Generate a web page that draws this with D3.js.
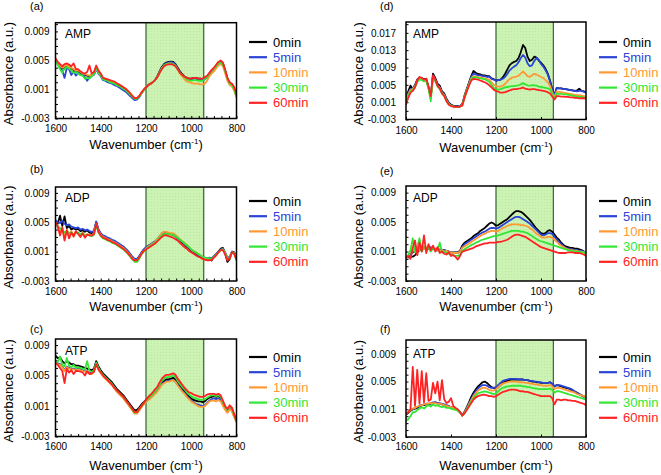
<!DOCTYPE html>
<html><head><meta charset="utf-8">
<script src="https://cdn.jsdelivr.net/npm/d3@7"></script>
<style>body{margin:0;background:#fff}svg{display:block}text{font-family:"Liberation Sans",Arial,sans-serif}</style>
</head><body><svg id="c" width="661" height="475"></svg>
<script>
// ---- DATA (absorbance values in units of 10^-3 a.u.) ----
const wavenumber = [1600,1590,1580,1570,1560,1550,1540,1530,1520,1510,1500,1490,1480,1470,1460,1450,1440,1430,1420,1410,1400,1390,1380,1370,1360,1350,1340,1330,1320,1310,1300,1290,1280,1270,1260,1250,1240,1230,1220,1210,1200,1190,1180,1170,1160,1150,1140,1130,1120,1110,1100,1090,1080,1070,1060,1050,1040,1030,1020,1010,1000,990,980,970,960,950,940,930,920,910,900,890,880,870,860,850,840,830,820,810,800];
const seriesNames = ["0min","5min","10min","30min","60min"];
const panelIds = ["(a)","(b)","(c)","(d)","(e)","(f)"];
const compounds = ["AMP","ADP","ATP","AMP","ADP","ATP"];
const xTickValues = [1600,1400,1200,1000,800];
const highlightBand = [1200,945];
const yTicks = [-3,1,5,9];
const yTickLabels = ["-0.003","0.001","0.005","0.009"];
const yTicksD = [-3,1,5,9,13,17];
const yTickLabelsD = ["-0.003","0.001","0.005","0.009","0.013","0.017"];

// (a) AMP
const a_0min = [5.0,4.6,4.3,3.9,4.1,4.3,4.4,3.9,3.7,3.5, 3.6,3.3,3.1,3.0,2.9,2.8,3.0,3.2,4.0,3.4, 3.0,2.4,2.3,2.2,2.0,1.9,1.8,1.6,1.5,1.3, 1.1,0.9,0.6,0.3,0.0,-0.3,-0.3,0.0,0.5,0.9, 1.3,1.6,1.8,2.0,2.3,2.8,3.5,4.1,4.5,4.7, 4.8,4.85,4.8,4.5,4.0,3.5,3.1,2.8,2.6,2.5, 2.5,2.6,2.6,2.5,2.5,2.4,2.5,2.7,3.2,3.6, 3.9,4.3,4.7,4.9,4.6,3.6,2.5,1.9,1.7,1.2, 0.2];
const a_5min = [5.1,4.5,4.0,3.6,2.6,4.0,3.8,3.0,3.5,2.9, 3.3,3.0,3.0,2.7,2.2,2.7,2.9,3.0,3.8,3.2, 2.8,2.3,2.2,2.0,1.9,1.8,1.6,1.5,1.3,1.1, 0.9,0.7,0.4,0.1,-0.2,-0.45,-0.4,-0.1,0.5,0.9, 1.3,1.6,1.8,2.0,2.3,2.8,3.4,4.0,4.4,4.6, 4.7,4.75,4.7,4.4,3.9,3.4,3.0,2.7,2.5,2.4, 2.4,2.5,2.5,2.4,2.4,2.3,2.4,2.6,3.1,3.5, 3.8,4.2,4.6,4.8,4.5,3.5,2.4,1.8,1.6,1.1, 0.1];
const a_10min = [5.2,4.7,4.3,4.0,4.2,4.4,4.2,4.0,3.8,3.6, 3.6,3.4,3.2,3.1,3.0,2.9,3.1,3.3,4.1,3.5, 3.1,2.6,2.5,2.4,2.2,2.1,2.0,1.8,1.7,1.5, 1.3,1.1,0.8,0.4,0.1,-0.2,-0.2,0.1,0.5,0.9, 1.3,1.6,1.8,2.0,2.3,2.7,3.3,3.9,4.3,4.5, 4.6,4.6,4.5,4.2,3.7,3.2,2.8,2.4,2.1,2.0, 1.9,1.8,1.8,1.8,1.7,1.7,1.8,2.2,2.8,3.2, 3.5,3.9,4.3,4.5,4.2,3.2,2.2,1.6,1.4,0.8, -0.1];
const a_30min = [5.0,4.4,3.8,3.3,3.9,4.1,3.9,3.6,3.3,3.4, 3.2,3.0,2.9,2.5,2.6,2.5,2.8,3.1,3.9,3.3, 2.9,2.4,2.3,2.2,2.0,1.9,1.8,1.6,1.5,1.3, 1.1,0.9,0.6,0.3,0.0,-0.3,-0.3,0.0,0.5,0.9, 1.3,1.6,1.8,2.0,2.3,2.7,3.3,3.9,4.3,4.5, 4.55,4.6,4.5,4.3,3.8,3.3,3.0,2.7,2.4,2.3, 2.2,2.3,2.3,2.2,2.2,2.2,2.4,2.7,3.2,3.6, 3.9,4.2,4.6,4.7,4.4,3.5,2.5,1.8,1.6,1.0, 0.0];
const a_60min = [5.3,4.8,4.5,4.2,4.5,4.6,4.4,4.2,4.6,3.8, 3.8,3.5,3.3,3.2,3.4,4.3,3.2,3.4,4.3,3.6, 3.2,2.6,2.5,2.4,2.3,2.2,2.1,1.9,1.7,1.5, 1.3,1.1,0.8,0.5,0.1,-0.2,-0.2,0.1,0.6,1.0, 1.3,1.6,1.8,2.0,2.3,2.7,3.3,3.8,4.2,4.4, 4.45,4.5,4.4,4.2,3.8,3.3,3.0,2.8,2.6,2.5, 2.5,2.6,2.6,2.5,2.5,2.5,2.7,2.9,3.3,3.7, 4.0,4.4,4.8,5.0,4.7,3.7,2.6,2.0,1.8,1.3, 0.3];

// (b) ADP
const b_0min = [5.2,4.8,5.9,4.5,5.8,4.2,4.5,4.0,4.2,4.0, 4.1,3.8,3.9,3.7,3.9,3.6,3.5,3.7,5.0,3.9, 3.4,3.1,3.0,2.8,2.7,2.5,2.4,2.2,2.0,1.8, 1.6,1.3,1.0,0.6,0.2,-0.1,-0.1,0.3,0.8,1.2, 1.5,1.8,1.9,2.1,2.3,2.6,3.0,3.4,3.7,3.6, 3.5,3.4,3.3,3.1,2.8,2.5,2.2,2.0,1.7,1.4, 1.1,0.9,0.7,0.5,0.3,0.1,0.0,-0.1,0.0,-0.2, 0.3,0.6,1.0,1.4,1.5,0.8,-0.4,0.0,1.0,0.9, -0.1];
const b_5min = [5.3,5.0,4.9,5.2,4.8,4.6,4.7,4.4,4.3,4.2, 4.3,4.0,4.1,3.9,4.0,3.8,3.7,3.8,5.1,4.0, 3.5,3.2,3.1,2.9,2.8,2.6,2.5,2.3,2.1,1.9, 1.7,1.4,1.1,0.7,0.3,0.0,0.0,0.4,0.9,1.3, 1.6,1.8,2.0,2.2,2.4,2.7,3.1,3.4,3.6,3.6, 3.5,3.4,3.3,3.1,2.8,2.6,2.3,2.1,1.8,1.5, 1.2,1.0,0.8,0.6,0.4,0.3,0.2,0.1,0.2,0.1, 0.4,0.7,1.0,1.3,1.4,0.9,0.2,0.3,1.0,0.8, 0.1];
const b_10min = [5.0,4.3,3.5,4.2,2.8,4.0,3.4,3.8,3.0,3.7, 3.5,3.3,3.6,3.0,3.4,3.3,3.2,3.5,4.8,3.8, 3.3,3.0,2.9,2.7,2.6,2.4,2.3,2.1,1.9,1.7, 1.5,1.2,0.9,0.5,0.1,-0.2,-0.2,0.2,0.7,1.1, 1.4,1.7,1.9,2.1,2.3,2.7,3.1,3.5,3.7,3.7, 3.6,3.5,3.5,3.3,3.0,2.7,2.4,2.2,1.9,1.6, 1.3,1.1,0.9,0.7,0.5,0.3,0.1,0.0,0.0,-0.1, 0.2,0.5,0.9,1.2,1.3,0.8,0.0,0.1,0.9,0.7, -0.2];
const b_30min = [4.9,4.4,4.2,3.9,3.6,3.8,3.5,3.6,3.4,3.5, 3.6,3.4,3.5,3.2,3.3,3.2,3.1,3.3,4.6,3.6, 3.1,2.8,2.7,2.5,2.4,2.2,2.1,1.9,1.7,1.5, 1.3,1.0,0.7,0.3,-0.1,-0.4,-0.4,0.0,0.6,1.0, 1.3,1.6,1.8,2.0,2.2,2.5,2.9,3.2,3.4,3.4, 3.4,3.3,3.3,3.1,2.9,2.6,2.4,2.1,1.9,1.6, 1.3,1.1,0.9,0.7,0.5,0.3,0.2,0.1,0.1,0.0, 0.3,0.6,0.9,1.2,1.3,0.8,0.0,0.2,0.9,0.8, 0.0];
const b_60min = [5.0,4.5,3.2,4.3,2.5,3.9,2.8,3.6,3.1,3.8, 3.4,3.0,3.5,2.9,3.3,3.2,3.2,3.4,4.8,3.7, 3.2,2.9,2.8,2.6,2.5,2.3,2.2,2.0,1.8,1.6, 1.4,1.1,0.8,0.4,0.0,-0.2,-0.2,0.2,0.7,1.1, 1.3,1.5,1.7,1.9,2.1,2.4,2.7,3.0,3.2,3.2, 3.1,3.0,2.9,2.7,2.5,2.2,1.9,1.6,1.4,1.1, 0.9,0.7,0.5,0.3,0.2,0.0,-0.1,-0.2,-0.2,-0.1, 0.2,0.5,0.9,1.2,1.2,0.6,-0.2,0.1,0.9,0.7, -0.1];

// (c) ATP
const c_0min = [7.6,7.3,7.4,6.9,6.6,6.9,6.7,6.5,6.5,6.3, 6.3,6.2,6.1,6.0,5.9,5.8,5.7,5.9,6.9,6.2, 5.7,5.3,5.0,4.7,4.4,4.1,3.7,3.3,3.0,2.7, 2.4,2.0,1.6,1.2,0.8,0.4,0.5,0.8,1.2,1.5, 1.8,2.1,2.3,2.6,2.9,3.2,3.7,4.1,4.3,4.5, 4.5,4.6,4.7,4.5,4.1,3.7,3.3,3.0,2.6,2.3, 2.0,1.8,1.7,1.6,1.6,1.5,1.6,1.9,2.1,2.2, 2.3,2.2,2.3,2.1,1.4,0.8,0.4,0.9,0.6,-0.2, -1.0];
const c_5min = [6.8,6.6,6.5,6.2,5.7,6.2,6.0,5.9,5.9,5.8, 5.9,5.8,5.7,5.6,5.5,5.4,5.3,5.6,6.6,5.9, 5.4,5.0,4.7,4.4,4.1,3.8,3.4,3.0,2.7,2.4, 2.1,1.7,1.3,0.9,0.5,0.1,0.1,0.5,0.9,1.3, 1.6,1.9,2.1,2.4,2.7,3.0,3.5,3.9,4.1,4.3, 4.3,4.4,4.4,4.2,3.8,3.4,3.0,2.7,2.3,2.0, 1.7,1.5,1.3,1.2,1.1,1.0,1.1,1.4,1.7,1.9, 2.0,1.9,2.0,1.8,1.2,0.6,0.2,0.7,0.4,-0.4, -1.1];
const c_10min = [6.6,6.5,6.4,6.1,5.6,6.1,5.9,5.8,5.8,5.7, 5.8,5.7,5.6,5.5,5.4,5.3,5.2,5.5,6.5,5.8, 5.3,4.9,4.6,4.3,4.0,3.7,3.3,2.9,2.6,2.3, 2.0,1.6,1.2,0.8,0.4,0.0,0.0,0.4,0.8,1.2, 1.5,1.8,2.0,2.3,2.6,2.9,3.3,3.8,4.0,4.2, 4.2,4.3,4.4,4.2,3.7,3.3,2.9,2.6,2.2,1.9, 1.6,1.4,1.2,1.0,0.9,0.9,1.0,1.3,1.6,1.7, 1.7,1.6,1.8,1.6,1.0,0.5,0.1,0.6,0.3,-0.5, -1.1];
const c_30min = [6.7,6.8,7.5,6.4,6.2,7.3,6.3,6.1,6.4,6.0, 6.1,6.0,5.9,5.8,6.9,5.6,5.5,5.7,6.7,6.0, 5.5,5.1,4.8,4.5,4.2,3.9,3.5,3.1,2.8,2.5, 2.2,1.8,1.4,1.0,0.5,0.1,0.2,0.6,1.0,1.4, 1.7,2.0,2.3,2.6,2.9,3.3,3.8,4.3,4.6,4.8, 4.8,4.9,5.0,4.8,4.3,3.9,3.5,3.2,2.8,2.5, 2.3,2.1,2.0,1.9,1.8,1.8,1.9,2.1,2.3,2.4, 2.4,2.3,2.4,2.2,1.5,0.9,0.5,1.0,0.7,-0.2, -1.0];
const c_60min = [6.7,6.4,6.0,5.6,4.0,5.9,5.4,5.7,5.2,5.6, 5.6,5.5,5.4,5.0,5.6,5.2,5.3,5.5,6.5,5.8, 5.4,5.0,4.7,4.4,4.1,3.8,3.4,3.1,2.8,2.5, 2.2,1.8,1.4,1.0,0.6,0.2,0.2,0.6,1.0,1.4, 1.8,2.2,2.5,2.8,3.2,3.5,4.1,4.6,4.9,5.1, 5.1,5.2,5.3,5.1,4.6,4.2,3.8,3.4,3.1,2.8, 2.7,2.5,2.4,2.3,2.2,2.2,2.3,2.5,2.6,2.6, 2.6,2.5,2.6,2.4,1.7,1.0,0.6,1.1,0.8,-0.1, -0.9];

// (d) AMP
const d_0min = [2.1,3.5,4.8,4.0,5.0,6.2,6.7,6.5,6.3,6.4, 4.5,2.2,7.6,6.6,5.3,4.8,3.5,3.0,1.8,0.9, 0.4,0.2,0.1,0.1,0.1,0.5,2.5,4.0,5.5,7.0, 8.2,7.8,7.5,7.4,7.2,7.2,7.0,7.0,6.5,6.3, 6.0,6.1,6.2,6.7,7.5,8.5,9.5,10.0,10.3,10.5, 11.2,12.5,14.2,13.5,11.5,10.5,10.8,11.5,11.3,10.6, 10.1,9.5,8.7,7.6,6.0,4.0,2.6,4.3,4.2,4.2, 4.0,4.0,3.9,3.8,3.7,3.6,3.7,4.1,3.6,3.5, 3.2];
const d_5min = [2.5,3.0,4.0,4.2,4.8,6.0,6.6,6.4,6.1,6.2, 4.4,2.3,7.2,6.3,5.0,4.5,3.3,2.8,1.6,0.8, 0.3,0.1,0.0,0.0,0.0,0.4,2.3,3.8,5.3,6.8, 7.6,7.4,7.2,7.2,7.0,7.0,6.8,6.9,6.4,6.2, 6.0,6.1,6.2,6.4,6.8,7.5,8.3,8.8,9.2,9.5, 10.2,11.2,11.9,11.3,10.0,9.3,9.5,10.5,11.2,10.8, 9.8,9.2,8.4,7.4,5.8,3.8,2.6,4.3,4.2,4.2, 4.0,4.0,3.9,3.8,3.7,3.6,3.5,3.6,3.6,3.4, 3.2];
const d_10min = [1.5,2.8,3.8,4.0,4.6,5.8,6.5,6.3,6.0,6.1, 4.3,2.0,7.0,6.1,4.8,4.3,3.1,2.6,1.4,0.6, 0.2,0.0,-0.1,-0.1,0.0,0.3,2.2,3.7,5.1,6.5, 7.0,6.9,6.8,6.7,6.6,6.5,6.3,6.2,5.6,5.0, 4.7,4.6,4.6,4.8,5.2,5.8,6.3,6.6,6.8,6.9, 7.1,7.6,8.1,7.6,7.0,6.8,7.2,7.5,7.4,7.1, 6.8,6.6,6.1,5.6,4.8,3.2,2.2,3.5,3.4,3.3, 3.2,3.1,3.0,2.9,2.8,2.7,2.6,2.6,2.5,2.4, 2.2];
const d_30min = [1.0,2.5,3.5,3.8,4.5,5.7,6.3,6.1,5.8,5.9, 4.1,1.2,6.8,5.9,4.6,4.1,3.0,2.5,1.3,0.5, 0.2,0.0,-0.1,-0.1,0.0,0.3,2.1,3.6,5.0,6.3, 6.8,6.7,6.6,6.5,6.4,6.3,6.0,5.7,5.0,4.3, 4.0,3.9,4.0,4.2,4.4,4.5,4.6,4.7,4.7,4.8, 4.9,5.1,5.4,5.1,4.9,4.8,4.9,4.9,4.8,4.6, 4.5,4.4,4.3,4.2,3.9,2.8,1.8,3.0,2.9,2.9, 2.8,2.8,2.7,2.6,2.5,2.4,2.3,2.2,2.2,2.1, 2.0];
const d_60min = [0.4,2.0,3.2,3.6,4.4,6.0,6.8,6.6,6.2,6.4, 4.6,2.4,7.2,6.2,4.8,4.2,3.0,2.4,1.2,0.4, 0.1,0.0,-0.1,-0.1,0.0,0.2,2.0,3.5,4.8,6.0, 6.4,6.3,6.2,6.0,5.8,5.6,5.3,4.9,4.4,3.9, 3.6,3.4,3.2,3.2,3.3,3.5,3.7,3.9,4.0,4.0, 4.1,4.2,4.4,4.1,4.0,3.9,4.0,4.0,3.9,3.8, 3.7,3.6,3.5,3.3,3.0,2.3,1.6,2.4,2.4,2.3, 2.3,2.2,2.2,2.1,2.1,2.0,2.0,1.9,1.9,1.9, 1.8];

// (e) ADP
const e_0min = [0.2,0.2,0.3,0.3,0.5,0.9,1.2,1.3,1.4,1.5, 1.4,1.5,1.4,1.3,1.3,1.2,1.2,1.2,1.1,1.0, 0.9,0.9,0.9,0.9,1.1,1.8,2.2,2.4,2.6,2.8, 3.1,3.3,3.5,3.8,4.0,4.2,4.5,4.8,4.95,4.8, 4.5,4.6,4.8,5.0,5.2,5.4,5.7,6.0,6.3,6.5, 6.5,6.4,6.2,5.9,5.6,5.3,4.9,4.5,4.1,3.8, 3.5,3.4,3.5,3.8,3.9,3.7,3.3,2.9,2.6,2.2, 1.9,1.7,1.6,1.5,1.5,1.4,1.4,1.3,1.2,1.0, 0.8];
const e_5min = [0.2,0.3,0.6,0.9,1.0,1.1,1.3,1.2,1.5,1.3, 1.4,1.6,1.3,1.4,1.2,1.3,1.1,1.2,1.0,1.0, 0.9,0.8,0.9,0.8,1.0,1.6,2.0,2.2,2.4,2.6, 2.8,3.0,3.2,3.4,3.6,3.7,3.9,4.1,4.2,4.2, 4.1,4.2,4.4,4.6,4.8,5.0,5.2,5.4,5.6,5.7, 5.7,5.6,5.4,5.2,5.0,4.8,4.5,4.2,3.9,3.6, 3.3,3.2,3.3,3.5,3.5,3.4,3.0,2.6,2.3,2.0, 1.7,1.5,1.4,1.3,1.3,1.2,1.2,1.1,1.1,1.0, 0.8];
const e_10min = [0.2,0.4,1.0,1.3,1.1,1.5,1.2,1.8,1.3,1.6, 1.5,1.2,1.6,1.3,1.4,1.1,1.2,1.0,1.1,0.9, 0.9,0.8,0.8,0.8,1.0,1.5,1.7,1.9,2.1,2.3, 2.5,2.7,2.9,3.1,3.3,3.4,3.6,3.7,3.8,3.8, 3.7,3.8,4.0,4.2,4.3,4.5,4.6,4.7,4.7,4.7, 4.7,4.6,4.6,4.5,4.4,4.2,4.0,3.7,3.4,3.2, 3.0,2.9,2.9,3.0,3.0,2.9,2.6,2.3,2.0,1.8, 1.6,1.4,1.3,1.2,1.2,1.1,1.1,1.0,1.0,0.9, 0.7];
const e_30min = [0.2,0.5,1.2,2.8,0.9,1.6,2.8,1.0,1.7,1.3, 1.5,1.0,1.4,1.2,1.1,2.2,0.9,1.0,0.8,0.7, 0.6,0.5,0.4,0.4,0.6,1.1,1.3,1.5,1.7,1.9, 2.0,2.2,2.3,2.5,2.6,2.7,2.8,2.9,3.0,3.1, 3.1,3.2,3.3,3.4,3.5,3.6,3.7,3.8,3.8,3.8, 3.8,3.7,3.7,3.6,3.5,3.3,3.1,2.9,2.7,2.5, 2.4,2.3,2.2,2.1,2.0,1.9,1.8,1.7,1.6,1.5, 1.4,1.3,1.2,1.1,1.1,1.0,1.0,1.0,0.9,0.9, 0.7];
const e_60min = [0.2,0.4,0.0,1.5,2.5,0.5,2.2,1.0,3.2,0.8, 2.0,1.2,1.8,1.0,1.6,0.8,1.0,0.7,0.6,0.9, 0.4,0.5,0.3,-0.1,0.4,1.0,1.1,1.2,1.3,1.4, 1.5,1.7,1.8,1.9,2.0,2.1,2.1,2.2,2.2,2.2, 2.2,2.3,2.3,2.4,2.5,2.6,2.8,3.0,3.2,3.3, 3.3,3.2,3.1,3.0,2.8,2.6,2.4,2.2,2.0,1.8, 1.6,1.5,1.4,1.3,1.2,1.1,1.0,0.9,0.8,0.8, 0.8,0.8,0.9,0.9,0.9,0.8,0.8,0.8,0.7,0.6, 0.4];

// (f) ATP
const f_0min = [0.2,0.5,0.8,1.0,1.1,1.2,1.4,1.6,1.6,1.7, 1.7,1.8,1.9,2.0,1.9,1.8,1.7,1.6,1.5,1.4, 1.3,1.2,1.1,0.9,0.6,0.1,0.6,1.3,2.0,2.8, 3.4,3.9,4.3,4.6,4.9,5.0,4.8,4.5,4.2,4.1, 4.0,4.2,4.5,4.8,5.0,5.1,5.2,5.3,5.3,5.3, 5.3,5.3,5.3,5.2,5.2,5.1,5.0,5.0,4.9,4.9, 4.8,4.8,4.8,4.8,4.9,4.7,4.3,4.5,4.4,4.3, 4.2,4.1,4.0,3.9,3.7,3.5,3.4,3.2,3.0,2.9, 2.7];
const f_5min = [0.3,0.6,0.9,1.0,1.2,1.3,1.5,1.6,1.7,1.8, 1.8,1.9,2.0,2.0,1.9,1.9,1.8,1.7,1.6,1.5, 1.3,1.2,1.1,0.9,0.6,0.1,0.6,1.2,1.8,2.5, 3.1,3.6,4.0,4.3,4.5,4.5,4.4,4.2,4.1,4.1, 4.2,4.5,4.8,5.1,5.2,5.3,5.4,5.4,5.4,5.4, 5.3,5.3,5.3,5.2,5.2,5.1,5.1,5.0,5.0,4.9, 4.9,4.8,4.8,4.8,4.9,4.7,4.3,4.5,4.5,4.4, 4.3,4.2,4.1,4.0,3.8,3.6,3.4,3.2,3.0,2.8, 2.6];
const f_10min = [0.3,0.6,0.9,1.1,1.2,1.4,1.5,1.6,1.7,1.8, 1.8,1.9,1.9,1.9,1.8,1.8,1.7,1.6,1.5,1.4, 1.3,1.2,1.1,0.9,0.6,0.1,0.5,1.1,1.7,2.3, 2.9,3.3,3.7,3.9,4.1,4.1,4.0,3.8,3.7,3.7, 3.9,4.2,4.5,4.7,4.8,4.9,5.0,5.0,5.0,5.0, 4.9,4.9,4.9,4.8,4.8,4.7,4.7,4.6,4.6,4.5, 4.5,4.4,4.4,4.4,4.5,4.3,3.9,4.1,4.1,4.0, 3.9,3.8,3.7,3.6,3.5,3.4,3.2,3.1,3.0,2.9, 2.7];
const f_30min = [-0.7,-0.4,0.0,0.6,0.6,0.9,1.1,1.3,1.1,1.4, 1.6,1.4,1.7,1.5,1.6,1.4,1.3,1.4,1.2,1.2, 1.1,1.0,0.9,0.8,0.5,0.1,0.4,1.0,1.6,2.1, 2.6,3.0,3.3,3.4,3.5,3.6,3.5,3.4,3.3,3.2, 3.3,3.6,3.9,4.1,4.2,4.3,4.3,4.4,4.4,4.4, 4.4,4.4,4.3,4.3,4.2,4.2,4.1,4.0,4.0,3.9, 3.9,3.9,3.9,3.9,4.0,3.8,3.4,3.6,3.6,3.5, 3.4,3.3,3.2,3.1,3.0,2.9,2.8,2.7,2.6,2.5, 2.4];
const f_60min = [0.3,0.6,1.0,7.1,1.5,6.7,1.8,6.5,2.0,6.2, 2.2,2.4,4.8,3.3,5.0,2.3,5.2,2.4,1.9,2.1, 2.6,1.5,1.2,1.0,0.6,0.1,0.4,0.9,1.4,1.9, 2.4,2.7,2.9,3.0,3.1,3.1,3.0,2.9,2.9,2.8, 2.9,3.1,3.3,3.5,3.6,3.7,3.8,3.85,3.85,3.8, 3.7,3.6,3.6,3.5,3.5,3.4,3.3,3.2,3.1,3.0, 2.9,2.9,2.9,2.9,2.9,2.6,1.7,2.4,2.4,2.3, 2.4,2.4,2.3,2.3,2.2,2.2,2.1,2.0,1.9,1.8, 1.6];

const panelSeries = [
  [a_0min,a_5min,a_10min,a_30min,a_60min],
  [b_0min,b_5min,b_10min,b_30min,b_60min],
  [c_0min,c_5min,c_10min,c_30min,c_60min],
  [d_0min,d_5min,d_10min,d_30min,d_60min],
  [e_0min,e_5min,e_10min,e_30min,e_60min],
  [f_0min,f_5min,f_10min,f_30min,f_60min]
];

// ---- LAYOUT & STYLE ----
const colors = ["#000000","#2944d6","#ff9933","#33e633","#ff2222"];
const left = {x0:55.5,x1:236.5,idX:30,nameDx:9.5,legX:249,tickPad:6,yTitleX:13,minorX:true};
const right = {x0:406,x1:586,idX:380,nameDx:7,legX:599,tickPad:10,yTitleX:363,minorX:false};
const layout = [
  {col:left, y0:22.7,y1:118.5,ymax:10.2,idY:10, nameY:37.7,legY:42, tickB:132,titleB:149,yt:yTicks, ytl:yTickLabels, minorStep:1},
  {col:left, y0:187, y1:281, ymax:9.8, idY:173,nameY:201.7,legY:201,tickB:295,titleB:311,yt:yTicks, ytl:yTickLabels, minorStep:1},
  {col:left, y0:339, y1:436.5,ymax:9.8, idY:333,nameY:355, legY:357,tickB:450,titleB:470,yt:yTicks, ytl:yTickLabels, minorStep:1},
  {col:right,y0:22, y1:119.5,ymax:19.5,idY:10, nameY:38.3,legY:42, tickB:134,titleB:152,yt:yTicksD,ytl:yTickLabelsD,minorStep:2},
  {col:right,y0:186, y1:281, ymax:9.9, idY:175,nameY:201.7,legY:201,tickB:295,titleB:311,yt:yTicks, ytl:yTickLabels, minorStep:1},
  {col:right,y0:340, y1:437, ymax:11, idY:333,nameY:358, legY:357,tickB:450,titleB:470,yt:yTicks, ytl:yTickLabels, minorStep:1}
];

const svg = d3.select("#c");
const defs = svg.append("defs");
const FONT = '"Liberation Sans", Arial, sans-serif';
const pat = defs.append("pattern").attr("id","dots").attr("width",3).attr("height",3).attr("patternUnits","userSpaceOnUse");
pat.append("rect").attr("width",3).attr("height",3).attr("fill","#cdf3b4");
pat.append("rect").attr("x",1).attr("y",1).attr("width",1).attr("height",1).attr("fill","#bde6a2");

layout.forEach((L, pi) => {
  const C = L.col;
  const g = svg.append("g");
  const x = d3.scaleLinear().domain([1600,800]).range([C.x0,C.x1]);
  const y = d3.scaleLinear().domain([-3,L.ymax]).range([L.y1,L.y0]);

  defs.append("clipPath").attr("id","clip"+pi).append("rect")
    .attr("x",C.x0).attr("y",L.y0).attr("width",C.x1-C.x0).attr("height",L.y1-L.y0);

  // highlight band
  g.append("rect").attr("x",x(highlightBand[0])).attr("y",L.y0)
    .attr("width",x(highlightBand[1])-x(highlightBand[0])).attr("height",L.y1-L.y0)
    .attr("fill","url(#dots)");
  highlightBand.forEach(w => g.append("line").attr("x1",x(w)).attr("x2",x(w))
    .attr("y1",L.y0).attr("y2",L.y1).attr("stroke","#3f6e3f").attr("stroke-width",1.3));

  // minor ticks
  const minorY = d3.range(-3, L.ymax, L.minorStep);
  g.append("g").attr("transform",`translate(${C.x0},0)`)
    .call(d3.axisLeft(y).tickValues(minorY).tickSizeInner(-2.5).tickSizeOuter(0).tickFormat(""))
    .call(s=>s.select(".domain").remove());
  const minorXv = C.minorX ? d3.range(0,25).map(k=>1600-k*800/24) : xTickValues;
  g.append("g").attr("transform",`translate(0,${L.y1})`)
    .call(d3.axisBottom(x).tickValues(minorXv).tickSizeInner(-2.5).tickSizeOuter(0).tickFormat(""))
    .call(s=>s.select(".domain").remove());

  // series
  const line = d3.line().x((d,i)=>x(wavenumber[i])).y(d=>y(d)).curve(d3.curveLinear);
  panelSeries[pi].forEach((s,k) => {
    g.append("path").attr("d",line(s)).attr("fill","none").attr("stroke",colors[k])
      .attr("stroke-width",1.8).attr("stroke-linejoin","round").attr("clip-path",`url(#clip${pi})`);
  });

  // frame
  g.append("rect").attr("x",C.x0).attr("y",L.y0).attr("width",C.x1-C.x0).attr("height",L.y1-L.y0)
    .attr("fill","none").attr("stroke","#000").attr("stroke-width",1.5);

  // y axis labels
  const ya = g.append("g").attr("transform",`translate(${C.x0},0)`)
    .call(d3.axisLeft(y).tickValues(L.yt).tickSize(0).tickPadding(C.tickPad).tickFormat((d,i)=>L.ytl[i]));
  ya.select(".domain").remove();
  ya.selectAll("text").attr("font-size",10).attr("font-family",FONT).attr("fill","#000");

  // x axis labels
  const xa = g.append("g").attr("transform",`translate(0,${L.y1})`)
    .call(d3.axisBottom(x).tickValues(xTickValues).tickSize(0).tickPadding(0).tickFormat(d=>String(d)));
  xa.select(".domain").remove();
  xa.selectAll("text").attr("font-size",10).attr("font-family",FONT).attr("fill","#000")
    .attr("dy",null).attr("y",L.tickB-L.y1);

  // x title
  const xt = g.append("text").attr("x",(C.x0+C.x1)/2).attr("y",L.titleB).attr("text-anchor","middle")
    .attr("font-size",13).attr("font-family",FONT);
  xt.append("tspan").text("Wavenumber (cm");
  xt.append("tspan").text("-1").attr("font-size",8).attr("dy",-5);
  xt.append("tspan").text(")").attr("dy",5);

  // y title
  g.append("text").attr("transform",`translate(${C.yTitleX},${(L.y0+L.y1)/2+3}) rotate(-90)`)
    .attr("text-anchor","middle").attr("font-size",13).attr("font-family",FONT).text("Absorbance (a.u.)");

  // panel id
  g.append("text").attr("x",C.idX).attr("y",L.idY).attr("font-size",11).attr("font-family",FONT).text(panelIds[pi]);
  // compound
  g.append("text").attr("x",C.x0+C.nameDx).attr("y",L.nameY).attr("font-size",12).attr("font-family",FONT).text(compounds[pi]);

  // legend
  seriesNames.forEach((n,k) => {
    const yy = L.legY + k*15.2;
    g.append("line").attr("x1",C.legX).attr("x2",C.legX+18).attr("y1",yy).attr("y2",yy)
      .attr("stroke",colors[k]).attr("stroke-width",2.2);
    g.append("text").attr("x",C.legX+24).attr("y",yy).attr("dy","0.36em").attr("font-size",13)
      .attr("font-family",FONT).attr("fill",colors[k]).text(n);
  });
});
</script></body></html>
